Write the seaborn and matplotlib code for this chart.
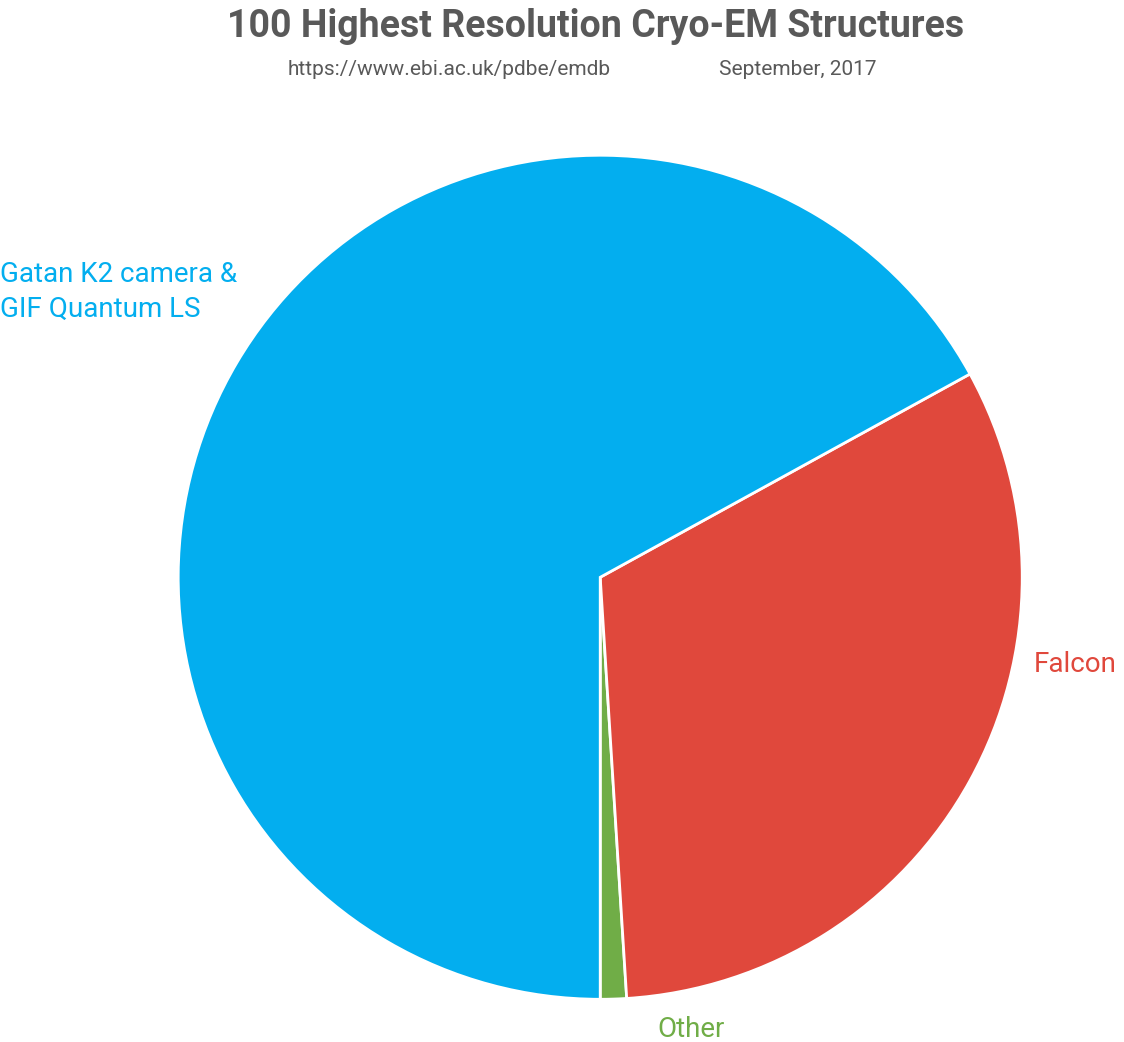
import matplotlib
matplotlib.use("Agg")
import matplotlib.pyplot as plt
import seaborn as sns

sns.set_theme(style="white")
plt.rcParams['font.family'] = ['Roboto', 'DejaVu Sans']

# share of the 100 structures by detector, counterclockwise from the bottom
labels = ["Other", "Falcon", "Gatan K2 camera &\nGIF Quantum LS"]
counts = [1, 32, 67]
colors = ["#70AD47", "#E0483C", "#03AEEF"]

fig = plt.figure(figsize=(11.24, 10.42), dpi=100)
ax = fig.add_axes([0.1585, 0.041, 0.751, 0.81])
ax.pie(counts, colors=colors, startangle=-90, counterclock=True,
       wedgeprops=dict(edgecolor="white", linewidth=2))
ax.set_aspect("equal")
ax.set_xlim(-1.0, 1.0)
ax.set_ylim(-1.0, 1.0)
ax.axis("off")

fig.text(0.53, 0.975, "100 Highest Resolution Cryo-EM Structures", ha="center", va="center",
         fontsize=27, fontweight="bold", color="#595959", fontstretch="condensed")
fig.text(0.40, 0.933, "https://www.ebi.ac.uk/pdbe/emdb", ha="center", va="center",
         fontsize=15, color="#595959")
fig.text(0.71, 0.933, "September, 2017", ha="center", va="center",
         fontsize=15, color="#595959")

fig.text(0.0, 0.72, labels[2], ha="left", va="center", fontsize=20,
         color=colors[2], linespacing=1.4)
fig.text(0.92, 0.362, labels[1], ha="left", va="center", fontsize=20, color=colors[1])
fig.text(0.585, 0.012, labels[0], ha="left", va="center", fontsize=20, color=colors[0])

fig.savefig("out.png", dpi=100)
